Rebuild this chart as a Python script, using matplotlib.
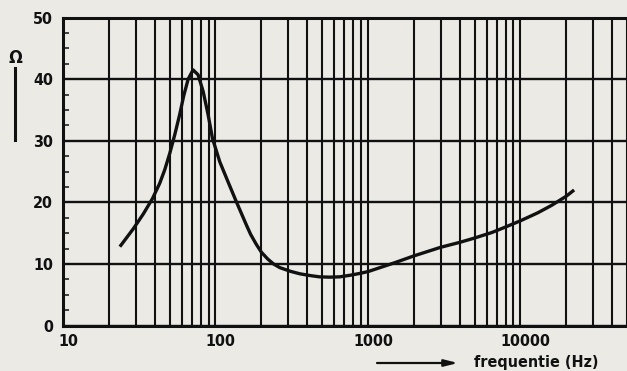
import matplotlib
matplotlib.use("Agg")
import matplotlib.pyplot as plt
from matplotlib.ticker import FixedLocator, NullFormatter, LogLocator
import matplotlib.transforms as mtransforms

# Impedance curve of the loudspeaker: frequency (Hz) and impedance (ohm)
freq_hz = [23.6, 28.9, 33.6, 38.6, 43.1, 46.5, 50.2, 54.1, 58.3, 61.9, 66.2,
           71.3, 76.9, 83.0, 89.5, 95.5, 106.6, 121.0, 137.0, 159.6, 170.0,
           185.0, 200.0, 220.0, 240.0, 264.0, 310.0, 357.0, 420.0, 482.0,
           560.0, 652.0, 760.0, 881.0, 1000.0, 1200.0, 1500.0, 2000.0, 3000.0,
           4000.0, 5000.0, 6500.0, 8000.0, 10000.0, 13000.0, 16000.0, 20000.0,
           22500.0]
impedance_ohm = [12.8, 15.7, 18.1, 20.6, 23.1, 25.3, 28.0, 31.0, 34.3, 37.3, 40.0,
                 41.5, 40.7, 38.0, 34.2, 30.4, 26.6, 23.3, 20.1, 16.3, 14.8,
                 13.2, 11.9, 10.8, 10.0, 9.4, 8.8, 8.4, 8.1, 7.9,
                 7.85, 7.9, 8.15, 8.45, 8.75, 9.4, 10.2, 11.3, 12.7,
                 13.5, 14.2, 15.1, 16.0, 17.0, 18.3, 19.5, 21.0,
                 22.0]

x_tick_values = [10, 100, 1000, 10000]
x_tick_labels = ["10", "100", "1000", "10000"]
y_tick_values = [0, 10, 20, 30, 40, 50]
y_tick_labels = ["0", "10", "20", "30", "40", "50"]
y_minor_values = [2.5, 5, 7.5, 12.5, 15, 17.5, 22.5, 25, 27.5,
                  32.5, 35, 37.5, 42.5, 45, 47.5]

paper = "#ebeae5"
ink = "#111111"
font = dict(family=["DejaVu Sans"], fontstretch="condensed", fontweight="bold")

fig = plt.figure(figsize=(6.27, 3.71), dpi=100, facecolor=paper)
ax = fig.add_axes([0.1005, 0.1226, 0.8995, 0.8302], facecolor=paper)

ax.set_xscale("log")
ax.set_xlim(10, 50000)
ax.set_ylim(0, 50)

# Log grid: a line at every 1..9 multiple of each decade
ax.xaxis.set_major_locator(FixedLocator(x_tick_values))
ax.xaxis.set_minor_locator(LogLocator(base=10, subs=range(2, 10)))
ax.xaxis.set_minor_formatter(NullFormatter())
ax.set_xticklabels(x_tick_labels, color=ink, fontsize=11.5, **font)
ax.grid(True, which="both", axis="x", color=ink, linewidth=1.5)
ax.tick_params(axis="x", which="both", length=0, pad=6)

ax.set_yticks(y_tick_values)
ax.set_yticklabels(y_tick_labels, color=ink, fontsize=11.5, **font)
ax.yaxis.set_minor_locator(FixedLocator(y_minor_values))
ax.grid(True, which="major", axis="y", color=ink, linewidth=1.7)
ax.tick_params(axis="y", which="major", length=0, pad=7)
ax.tick_params(axis="y", which="minor", direction="in", length=4.5,
               width=1.3, color="#333333")

# Shift x labels slightly to the right of their grid lines
offset = mtransforms.ScaledTranslation(5 / 100, 0, fig.dpi_scale_trans)
for lab in ax.get_xticklabels():
    lab.set_transform(lab.get_transform() + offset)

for side in ("left", "bottom", "top"):
    ax.spines[side].set_color(ink)
    ax.spines[side].set_linewidth(2.2)
ax.spines["right"].set_visible(False)

ax.plot(freq_hz, impedance_ohm, color=ink, linewidth=2.4,
        solid_joinstyle="round", solid_capstyle="butt", zorder=3)

# Axis captions with arrows
fig.text(15 / 627, 1 - 58 / 371, "Ω", ha="center", va="center",
         color=ink, fontsize=13, **font)
fig.add_artist(plt.Line2D([15 / 627, 15 / 627], [1 - 68 / 371, 1 - 140 / 371],
                          color=ink, linewidth=2.2, transform=fig.transFigure))

ax.annotate("", xy=(458 / 627, 1 - 363 / 371), xytext=(377 / 627, 1 - 363 / 371),
            xycoords="figure fraction", textcoords="figure fraction",
            arrowprops=dict(arrowstyle="-|>,head_length=0.8,head_width=0.2",
                            color=ink, linewidth=1.6, shrinkA=0, shrinkB=0),
            annotation_clip=False)
fig.text(474 / 627, 1 - 362 / 371, "frequentie (Hz)", ha="left", va="center",
         color=ink, fontsize=11.5, **font)

fig.savefig("out.png", dpi=100, facecolor=paper)
